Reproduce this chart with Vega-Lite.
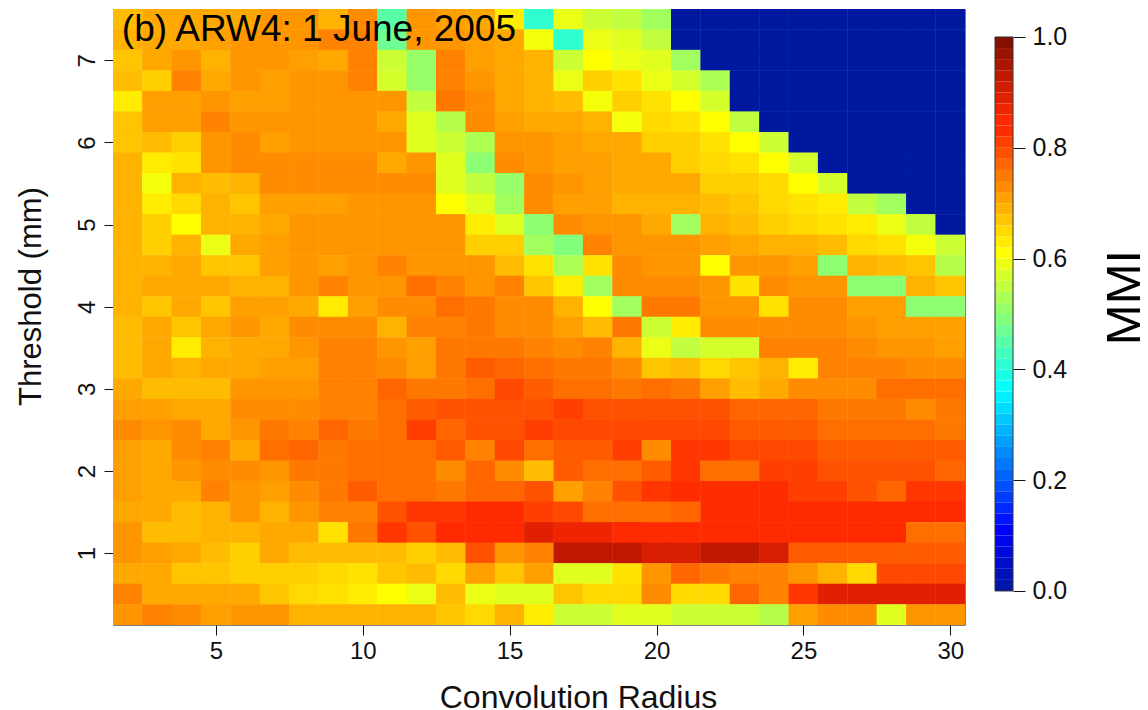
{"$schema":"https://vega.github.io/schema/vega-lite/v6.json","background":"white","padding":{"left":14,"top":8,"right":0,"bottom":0},"autosize":{"type":"pad"},"spacing":28,"config":{"font":"Liberation Sans","view":{"stroke":"#808080","strokeWidth":1}},
"datasets":{"grid":[
{"r":2,"t":7.5,"m":0.68},{"r":3,"t":7.5,"m":0.7},{"r":4,"t":7.5,"m":0.7},{"r":5,"t":7.5,"m":0.7},{"r":6,"t":7.5,"m":0.7},{"r":7,"t":7.5,"m":0.72},{"r":8,"t":7.5,"m":0.72},{"r":9,"t":7.5,"m":0.69},{"r":10,"t":7.5,"m":0.73},{"r":11,"t":7.5,"m":0.45},{"r":12,"t":7.5,"m":0.72},{"r":13,"t":7.5,"m":0.71},{"r":14,"t":7.5,"m":0.7},{"r":15,"t":7.5,"m":0.63},{"r":16,"t":7.5,"m":0.41},{"r":17,"t":7.5,"m":0.59},{"r":18,"t":7.5,"m":0.56},{"r":19,"t":7.5,"m":0.55},{"r":20,"t":7.5,"m":0.52},{"r":21,"t":7.5,"m":0},{"r":22,"t":7.5,"m":0},{"r":23,"t":7.5,"m":0},{"r":24,"t":7.5,"m":0},{"r":25,"t":7.5,"m":0},{"r":26,"t":7.5,"m":0},{"r":27,"t":7.5,"m":0},{"r":28,"t":7.5,"m":0},{"r":29,"t":7.5,"m":0},{"r":30,"t":7.5,"m":0},
{"r":2,"t":7.25,"m":0.69},{"r":3,"t":7.25,"m":0.7},{"r":4,"t":7.25,"m":0.7},{"r":5,"t":7.25,"m":0.71},{"r":6,"t":7.25,"m":0.72},{"r":7,"t":7.25,"m":0.72},{"r":8,"t":7.25,"m":0.72},{"r":9,"t":7.25,"m":0.74},{"r":10,"t":7.25,"m":0.74},{"r":11,"t":7.25,"m":0.47},{"r":12,"t":7.25,"m":0.72},{"r":13,"t":7.25,"m":0.72},{"r":14,"t":7.25,"m":0.71},{"r":15,"t":7.25,"m":0.7},{"r":16,"t":7.25,"m":0.6},{"r":17,"t":7.25,"m":0.41},{"r":18,"t":7.25,"m":0.59},{"r":19,"t":7.25,"m":0.58},{"r":20,"t":7.25,"m":0.55},{"r":21,"t":7.25,"m":0},{"r":22,"t":7.25,"m":0},{"r":23,"t":7.25,"m":0},{"r":24,"t":7.25,"m":0},{"r":25,"t":7.25,"m":0},{"r":26,"t":7.25,"m":0},{"r":27,"t":7.25,"m":0},{"r":28,"t":7.25,"m":0},{"r":29,"t":7.25,"m":0},{"r":30,"t":7.25,"m":0},
{"r":2,"t":7,"m":0.67},{"r":3,"t":7,"m":0.7},{"r":4,"t":7,"m":0.72},{"r":5,"t":7,"m":0.69},{"r":6,"t":7,"m":0.72},{"r":7,"t":7,"m":0.72},{"r":8,"t":7,"m":0.71},{"r":9,"t":7,"m":0.7},{"r":10,"t":7,"m":0.74},{"r":11,"t":7,"m":0.56},{"r":12,"t":7,"m":0.51},{"r":13,"t":7,"m":0.74},{"r":14,"t":7,"m":0.71},{"r":15,"t":7,"m":0.7},{"r":16,"t":7,"m":0.69},{"r":17,"t":7,"m":0.56},{"r":18,"t":7,"m":0.61},{"r":19,"t":7,"m":0.59},{"r":20,"t":7,"m":0.58},{"r":21,"t":7,"m":0.52},{"r":22,"t":7,"m":0},{"r":23,"t":7,"m":0},{"r":24,"t":7,"m":0},{"r":25,"t":7,"m":0},{"r":26,"t":7,"m":0},{"r":27,"t":7,"m":0},{"r":28,"t":7,"m":0},{"r":29,"t":7,"m":0},{"r":30,"t":7,"m":0},
{"r":2,"t":6.75,"m":0.68},{"r":3,"t":6.75,"m":0.66},{"r":4,"t":6.75,"m":0.74},{"r":5,"t":6.75,"m":0.7},{"r":6,"t":6.75,"m":0.72},{"r":7,"t":6.75,"m":0.71},{"r":8,"t":6.75,"m":0.72},{"r":9,"t":6.75,"m":0.72},{"r":10,"t":6.75,"m":0.74},{"r":11,"t":6.75,"m":0.57},{"r":12,"t":6.75,"m":0.51},{"r":13,"t":6.75,"m":0.74},{"r":14,"t":6.75,"m":0.72},{"r":15,"t":6.75,"m":0.7},{"r":16,"t":6.75,"m":0.69},{"r":17,"t":6.75,"m":0.59},{"r":18,"t":6.75,"m":0.66},{"r":19,"t":6.75,"m":0.64},{"r":20,"t":6.75,"m":0.59},{"r":21,"t":6.75,"m":0.57},{"r":22,"t":6.75,"m":0.53},{"r":23,"t":6.75,"m":0},{"r":24,"t":6.75,"m":0},{"r":25,"t":6.75,"m":0},{"r":26,"t":6.75,"m":0},{"r":27,"t":6.75,"m":0},{"r":28,"t":6.75,"m":0},{"r":29,"t":6.75,"m":0},{"r":30,"t":6.75,"m":0},
{"r":2,"t":6.5,"m":0.63},{"r":3,"t":6.5,"m":0.71},{"r":4,"t":6.5,"m":0.71},{"r":5,"t":6.5,"m":0.72},{"r":6,"t":6.5,"m":0.71},{"r":7,"t":6.5,"m":0.71},{"r":8,"t":6.5,"m":0.72},{"r":9,"t":6.5,"m":0.72},{"r":10,"t":6.5,"m":0.72},{"r":11,"t":6.5,"m":0.72},{"r":12,"t":6.5,"m":0.55},{"r":13,"t":6.5,"m":0.75},{"r":14,"t":6.5,"m":0.73},{"r":15,"t":6.5,"m":0.7},{"r":16,"t":6.5,"m":0.69},{"r":17,"t":6.5,"m":0.68},{"r":18,"t":6.5,"m":0.6},{"r":19,"t":6.5,"m":0.66},{"r":20,"t":6.5,"m":0.64},{"r":21,"t":6.5,"m":0.61},{"r":22,"t":6.5,"m":0.57},{"r":23,"t":6.5,"m":0},{"r":24,"t":6.5,"m":0},{"r":25,"t":6.5,"m":0},{"r":26,"t":6.5,"m":0},{"r":27,"t":6.5,"m":0},{"r":28,"t":6.5,"m":0},{"r":29,"t":6.5,"m":0},{"r":30,"t":6.5,"m":0},
{"r":2,"t":6.25,"m":0.67},{"r":3,"t":6.25,"m":0.71},{"r":4,"t":6.25,"m":0.71},{"r":5,"t":6.25,"m":0.74},{"r":6,"t":6.25,"m":0.72},{"r":7,"t":6.25,"m":0.72},{"r":8,"t":6.25,"m":0.72},{"r":9,"t":6.25,"m":0.72},{"r":10,"t":6.25,"m":0.72},{"r":11,"t":6.25,"m":0.7},{"r":12,"t":6.25,"m":0.58},{"r":13,"t":6.25,"m":0.54},{"r":14,"t":6.25,"m":0.73},{"r":15,"t":6.25,"m":0.71},{"r":16,"t":6.25,"m":0.7},{"r":17,"t":6.25,"m":0.7},{"r":18,"t":6.25,"m":0.69},{"r":19,"t":6.25,"m":0.6},{"r":20,"t":6.25,"m":0.65},{"r":21,"t":6.25,"m":0.64},{"r":22,"t":6.25,"m":0.61},{"r":23,"t":6.25,"m":0.55},{"r":24,"t":6.25,"m":0},{"r":25,"t":6.25,"m":0},{"r":26,"t":6.25,"m":0},{"r":27,"t":6.25,"m":0},{"r":28,"t":6.25,"m":0},{"r":29,"t":6.25,"m":0},{"r":30,"t":6.25,"m":0},
{"r":2,"t":6,"m":0.67},{"r":3,"t":6,"m":0.68},{"r":4,"t":6,"m":0.66},{"r":5,"t":6,"m":0.72},{"r":6,"t":6,"m":0.73},{"r":7,"t":6,"m":0.71},{"r":8,"t":6,"m":0.72},{"r":9,"t":6,"m":0.72},{"r":10,"t":6,"m":0.72},{"r":11,"t":6,"m":0.72},{"r":12,"t":6,"m":0.58},{"r":13,"t":6,"m":0.56},{"r":14,"t":6,"m":0.53},{"r":15,"t":6,"m":0.72},{"r":16,"t":6,"m":0.72},{"r":17,"t":6,"m":0.71},{"r":18,"t":6,"m":0.7},{"r":19,"t":6,"m":0.7},{"r":20,"t":6,"m":0.66},{"r":21,"t":6,"m":0.66},{"r":22,"t":6,"m":0.64},{"r":23,"t":6,"m":0.61},{"r":24,"t":6,"m":0.56},{"r":25,"t":6,"m":0},{"r":26,"t":6,"m":0},{"r":27,"t":6,"m":0},{"r":28,"t":6,"m":0},{"r":29,"t":6,"m":0},{"r":30,"t":6,"m":0},
{"r":2,"t":5.75,"m":0.69},{"r":3,"t":5.75,"m":0.63},{"r":4,"t":5.75,"m":0.64},{"r":5,"t":5.75,"m":0.72},{"r":6,"t":5.75,"m":0.73},{"r":7,"t":5.75,"m":0.73},{"r":8,"t":5.75,"m":0.73},{"r":9,"t":5.75,"m":0.73},{"r":10,"t":5.75,"m":0.73},{"r":11,"t":5.75,"m":0.7},{"r":12,"t":5.75,"m":0.72},{"r":13,"t":5.75,"m":0.58},{"r":14,"t":5.75,"m":0.5},{"r":15,"t":5.75,"m":0.73},{"r":16,"t":5.75,"m":0.72},{"r":17,"t":5.75,"m":0.71},{"r":18,"t":5.75,"m":0.71},{"r":19,"t":5.75,"m":0.7},{"r":20,"t":5.75,"m":0.7},{"r":21,"t":5.75,"m":0.66},{"r":22,"t":5.75,"m":0.65},{"r":23,"t":5.75,"m":0.64},{"r":24,"t":5.75,"m":0.61},{"r":25,"t":5.75,"m":0.57},{"r":26,"t":5.75,"m":0},{"r":27,"t":5.75,"m":0},{"r":28,"t":5.75,"m":0},{"r":29,"t":5.75,"m":0},{"r":30,"t":5.75,"m":0},
{"r":2,"t":5.5,"m":0.69},{"r":3,"t":5.5,"m":0.6},{"r":4,"t":5.5,"m":0.69},{"r":5,"t":5.5,"m":0.68},{"r":6,"t":5.5,"m":0.69},{"r":7,"t":5.5,"m":0.73},{"r":8,"t":5.5,"m":0.73},{"r":9,"t":5.5,"m":0.73},{"r":10,"t":5.5,"m":0.73},{"r":11,"t":5.5,"m":0.73},{"r":12,"t":5.5,"m":0.73},{"r":13,"t":5.5,"m":0.58},{"r":14,"t":5.5,"m":0.55},{"r":15,"t":5.5,"m":0.51},{"r":16,"t":5.5,"m":0.73},{"r":17,"t":5.5,"m":0.72},{"r":18,"t":5.5,"m":0.71},{"r":19,"t":5.5,"m":0.7},{"r":20,"t":5.5,"m":0.7},{"r":21,"t":5.5,"m":0.7},{"r":22,"t":5.5,"m":0.66},{"r":23,"t":5.5,"m":0.66},{"r":24,"t":5.5,"m":0.65},{"r":25,"t":5.5,"m":0.61},{"r":26,"t":5.5,"m":0.57},{"r":27,"t":5.5,"m":0},{"r":28,"t":5.5,"m":0},{"r":29,"t":5.5,"m":0},{"r":30,"t":5.5,"m":0},
{"r":2,"t":5.25,"m":0.69},{"r":3,"t":5.25,"m":0.63},{"r":4,"t":5.25,"m":0.65},{"r":5,"t":5.25,"m":0.69},{"r":6,"t":5.25,"m":0.67},{"r":7,"t":5.25,"m":0.71},{"r":8,"t":5.25,"m":0.71},{"r":9,"t":5.25,"m":0.71},{"r":10,"t":5.25,"m":0.72},{"r":11,"t":5.25,"m":0.72},{"r":12,"t":5.25,"m":0.72},{"r":13,"t":5.25,"m":0.61},{"r":14,"t":5.25,"m":0.58},{"r":15,"t":5.25,"m":0.52},{"r":16,"t":5.25,"m":0.73},{"r":17,"t":5.25,"m":0.71},{"r":18,"t":5.25,"m":0.71},{"r":19,"t":5.25,"m":0.69},{"r":20,"t":5.25,"m":0.69},{"r":21,"t":5.25,"m":0.69},{"r":22,"t":5.25,"m":0.68},{"r":23,"t":5.25,"m":0.67},{"r":24,"t":5.25,"m":0.65},{"r":25,"t":5.25,"m":0.64},{"r":26,"t":5.25,"m":0.63},{"r":27,"t":5.25,"m":0.55},{"r":28,"t":5.25,"m":0.52},{"r":29,"t":5.25,"m":0},{"r":30,"t":5.25,"m":0},
{"r":2,"t":5,"m":0.69},{"r":3,"t":5,"m":0.66},{"r":4,"t":5,"m":0.61},{"r":5,"t":5,"m":0.69},{"r":6,"t":5,"m":0.69},{"r":7,"t":5,"m":0.7},{"r":8,"t":5,"m":0.72},{"r":9,"t":5,"m":0.72},{"r":10,"t":5,"m":0.72},{"r":11,"t":5,"m":0.72},{"r":12,"t":5,"m":0.72},{"r":13,"t":5,"m":0.72},{"r":14,"t":5,"m":0.63},{"r":15,"t":5,"m":0.58},{"r":16,"t":5,"m":0.5},{"r":17,"t":5,"m":0.73},{"r":18,"t":5,"m":0.72},{"r":19,"t":5,"m":0.72},{"r":20,"t":5,"m":0.7},{"r":21,"t":5,"m":0.52},{"r":22,"t":5,"m":0.69},{"r":23,"t":5,"m":0.68},{"r":24,"t":5,"m":0.66},{"r":25,"t":5,"m":0.65},{"r":26,"t":5,"m":0.64},{"r":27,"t":5,"m":0.63},{"r":28,"t":5,"m":0.59},{"r":29,"t":5,"m":0.55},{"r":30,"t":5,"m":0},
{"r":2,"t":4.75,"m":0.69},{"r":3,"t":4.75,"m":0.66},{"r":4,"t":4.75,"m":0.69},{"r":5,"t":4.75,"m":0.59},{"r":6,"t":4.75,"m":0.7},{"r":7,"t":4.75,"m":0.71},{"r":8,"t":4.75,"m":0.72},{"r":9,"t":4.75,"m":0.72},{"r":10,"t":4.75,"m":0.72},{"r":11,"t":4.75,"m":0.72},{"r":12,"t":4.75,"m":0.72},{"r":13,"t":4.75,"m":0.72},{"r":14,"t":4.75,"m":0.66},{"r":15,"t":4.75,"m":0.66},{"r":16,"t":4.75,"m":0.52},{"r":17,"t":4.75,"m":0.49},{"r":18,"t":4.75,"m":0.74},{"r":19,"t":4.75,"m":0.72},{"r":20,"t":4.75,"m":0.72},{"r":21,"t":4.75,"m":0.72},{"r":22,"t":4.75,"m":0.71},{"r":23,"t":4.75,"m":0.7},{"r":24,"t":4.75,"m":0.69},{"r":25,"t":4.75,"m":0.69},{"r":26,"t":4.75,"m":0.68},{"r":27,"t":4.75,"m":0.65},{"r":28,"t":4.75,"m":0.64},{"r":29,"t":4.75,"m":0.6},{"r":30,"t":4.75,"m":0.56},
{"r":2,"t":4.5,"m":0.69},{"r":3,"t":4.5,"m":0.69},{"r":4,"t":4.5,"m":0.7},{"r":5,"t":4.5,"m":0.67},{"r":6,"t":4.5,"m":0.67},{"r":7,"t":4.5,"m":0.71},{"r":8,"t":4.5,"m":0.72},{"r":9,"t":4.5,"m":0.71},{"r":10,"t":4.5,"m":0.72},{"r":11,"t":4.5,"m":0.74},{"r":12,"t":4.5,"m":0.72},{"r":13,"t":4.5,"m":0.72},{"r":14,"t":4.5,"m":0.72},{"r":15,"t":4.5,"m":0.68},{"r":16,"t":4.5,"m":0.64},{"r":17,"t":4.5,"m":0.53},{"r":18,"t":4.5,"m":0.64},{"r":19,"t":4.5,"m":0.73},{"r":20,"t":4.5,"m":0.72},{"r":21,"t":4.5,"m":0.72},{"r":22,"t":4.5,"m":0.61},{"r":23,"t":4.5,"m":0.72},{"r":24,"t":4.5,"m":0.72},{"r":25,"t":4.5,"m":0.71},{"r":26,"t":4.5,"m":0.5},{"r":27,"t":4.5,"m":0.69},{"r":28,"t":4.5,"m":0.68},{"r":29,"t":4.5,"m":0.67},{"r":30,"t":4.5,"m":0.54},
{"r":2,"t":4.25,"m":0.69},{"r":3,"t":4.25,"m":0.7},{"r":4,"t":4.25,"m":0.7},{"r":5,"t":4.25,"m":0.7},{"r":6,"t":4.25,"m":0.69},{"r":7,"t":4.25,"m":0.69},{"r":8,"t":4.25,"m":0.72},{"r":9,"t":4.25,"m":0.74},{"r":10,"t":4.25,"m":0.72},{"r":11,"t":4.25,"m":0.72},{"r":12,"t":4.25,"m":0.76},{"r":13,"t":4.25,"m":0.74},{"r":14,"t":4.25,"m":0.72},{"r":15,"t":4.25,"m":0.74},{"r":16,"t":4.25,"m":0.67},{"r":17,"t":4.25,"m":0.63},{"r":18,"t":4.25,"m":0.52},{"r":19,"t":4.25,"m":0.73},{"r":20,"t":4.25,"m":0.73},{"r":21,"t":4.25,"m":0.73},{"r":22,"t":4.25,"m":0.72},{"r":23,"t":4.25,"m":0.64},{"r":24,"t":4.25,"m":0.73},{"r":25,"t":4.25,"m":0.72},{"r":26,"t":4.25,"m":0.72},{"r":27,"t":4.25,"m":0.5},{"r":28,"t":4.25,"m":0.5},{"r":29,"t":4.25,"m":0.69},{"r":30,"t":4.25,"m":0.67},
{"r":2,"t":4,"m":0.69},{"r":3,"t":4,"m":0.67},{"r":4,"t":4,"m":0.7},{"r":5,"t":4,"m":0.67},{"r":6,"t":4,"m":0.71},{"r":7,"t":4,"m":0.71},{"r":8,"t":4,"m":0.7},{"r":9,"t":4,"m":0.63},{"r":10,"t":4,"m":0.71},{"r":11,"t":4,"m":0.73},{"r":12,"t":4,"m":0.73},{"r":13,"t":4,"m":0.76},{"r":14,"t":4,"m":0.75},{"r":15,"t":4,"m":0.73},{"r":16,"t":4,"m":0.73},{"r":17,"t":4,"m":0.69},{"r":18,"t":4,"m":0.61},{"r":19,"t":4,"m":0.52},{"r":20,"t":4,"m":0.75},{"r":21,"t":4,"m":0.75},{"r":22,"t":4,"m":0.72},{"r":23,"t":4,"m":0.72},{"r":24,"t":4,"m":0.64},{"r":25,"t":4,"m":0.73},{"r":26,"t":4,"m":0.73},{"r":27,"t":4,"m":0.71},{"r":28,"t":4,"m":0.71},{"r":29,"t":4,"m":0.5},{"r":30,"t":4,"m":0.5},
{"r":2,"t":3.75,"m":0.68},{"r":3,"t":3.75,"m":0.7},{"r":4,"t":3.75,"m":0.67},{"r":5,"t":3.75,"m":0.7},{"r":6,"t":3.75,"m":0.72},{"r":7,"t":3.75,"m":0.7},{"r":8,"t":3.75,"m":0.73},{"r":9,"t":3.75,"m":0.73},{"r":10,"t":3.75,"m":0.73},{"r":11,"t":3.75,"m":0.69},{"r":12,"t":3.75,"m":0.74},{"r":13,"t":3.75,"m":0.74},{"r":14,"t":3.75,"m":0.75},{"r":15,"t":3.75,"m":0.73},{"r":16,"t":3.75,"m":0.73},{"r":17,"t":3.75,"m":0.71},{"r":18,"t":3.75,"m":0.68},{"r":19,"t":3.75,"m":0.75},{"r":20,"t":3.75,"m":0.56},{"r":21,"t":3.75,"m":0.63},{"r":22,"t":3.75,"m":0.73},{"r":23,"t":3.75,"m":0.73},{"r":24,"t":3.75,"m":0.73},{"r":25,"t":3.75,"m":0.73},{"r":26,"t":3.75,"m":0.73},{"r":27,"t":3.75,"m":0.72},{"r":28,"t":3.75,"m":0.71},{"r":29,"t":3.75,"m":0.71},{"r":30,"t":3.75,"m":0.71},
{"r":2,"t":3.5,"m":0.68},{"r":3,"t":3.5,"m":0.7},{"r":4,"t":3.5,"m":0.63},{"r":5,"t":3.5,"m":0.69},{"r":6,"t":3.5,"m":0.7},{"r":7,"t":3.5,"m":0.7},{"r":8,"t":3.5,"m":0.72},{"r":9,"t":3.5,"m":0.74},{"r":10,"t":3.5,"m":0.74},{"r":11,"t":3.5,"m":0.72},{"r":12,"t":3.5,"m":0.71},{"r":13,"t":3.5,"m":0.75},{"r":14,"t":3.5,"m":0.75},{"r":15,"t":3.5,"m":0.75},{"r":16,"t":3.5,"m":0.74},{"r":17,"t":3.5,"m":0.73},{"r":18,"t":3.5,"m":0.74},{"r":19,"t":3.5,"m":0.69},{"r":20,"t":3.5,"m":0.59},{"r":21,"t":3.5,"m":0.55},{"r":22,"t":3.5,"m":0.57},{"r":23,"t":3.5,"m":0.57},{"r":24,"t":3.5,"m":0.74},{"r":25,"t":3.5,"m":0.74},{"r":26,"t":3.5,"m":0.74},{"r":27,"t":3.5,"m":0.73},{"r":28,"t":3.5,"m":0.72},{"r":29,"t":3.5,"m":0.72},{"r":30,"t":3.5,"m":0.71},
{"r":2,"t":3.25,"m":0.68},{"r":3,"t":3.25,"m":0.7},{"r":4,"t":3.25,"m":0.69},{"r":5,"t":3.25,"m":0.7},{"r":6,"t":3.25,"m":0.7},{"r":7,"t":3.25,"m":0.71},{"r":8,"t":3.25,"m":0.71},{"r":9,"t":3.25,"m":0.74},{"r":10,"t":3.25,"m":0.74},{"r":11,"t":3.25,"m":0.73},{"r":12,"t":3.25,"m":0.71},{"r":13,"t":3.25,"m":0.75},{"r":14,"t":3.25,"m":0.78},{"r":15,"t":3.25,"m":0.77},{"r":16,"t":3.25,"m":0.76},{"r":17,"t":3.25,"m":0.75},{"r":18,"t":3.25,"m":0.75},{"r":19,"t":3.25,"m":0.73},{"r":20,"t":3.25,"m":0.67},{"r":21,"t":3.25,"m":0.68},{"r":22,"t":3.25,"m":0.65},{"r":23,"t":3.25,"m":0.67},{"r":24,"t":3.25,"m":0.69},{"r":25,"t":3.25,"m":0.63},{"r":26,"t":3.25,"m":0.74},{"r":27,"t":3.25,"m":0.74},{"r":28,"t":3.25,"m":0.74},{"r":29,"t":3.25,"m":0.73},{"r":30,"t":3.25,"m":0.73},
{"r":2,"t":3,"m":0.7},{"r":3,"t":3,"m":0.68},{"r":4,"t":3,"m":0.68},{"r":5,"t":3,"m":0.68},{"r":6,"t":3,"m":0.72},{"r":7,"t":3,"m":0.72},{"r":8,"t":3,"m":0.72},{"r":9,"t":3,"m":0.74},{"r":10,"t":3,"m":0.74},{"r":11,"t":3,"m":0.77},{"r":12,"t":3,"m":0.75},{"r":13,"t":3,"m":0.75},{"r":14,"t":3,"m":0.76},{"r":15,"t":3,"m":0.8},{"r":16,"t":3,"m":0.78},{"r":17,"t":3,"m":0.76},{"r":18,"t":3,"m":0.76},{"r":19,"t":3,"m":0.75},{"r":20,"t":3,"m":0.76},{"r":21,"t":3,"m":0.75},{"r":22,"t":3,"m":0.71},{"r":23,"t":3,"m":0.68},{"r":24,"t":3,"m":0.7},{"r":25,"t":3,"m":0.73},{"r":26,"t":3,"m":0.73},{"r":27,"t":3,"m":0.73},{"r":28,"t":3,"m":0.76},{"r":29,"t":3,"m":0.76},{"r":30,"t":3,"m":0.76},
{"r":2,"t":2.75,"m":0.71},{"r":3,"t":2.75,"m":0.71},{"r":4,"t":2.75,"m":0.7},{"r":5,"t":2.75,"m":0.7},{"r":6,"t":2.75,"m":0.73},{"r":7,"t":2.75,"m":0.73},{"r":8,"t":2.75,"m":0.73},{"r":9,"t":2.75,"m":0.74},{"r":10,"t":2.75,"m":0.74},{"r":11,"t":2.75,"m":0.76},{"r":12,"t":2.75,"m":0.78},{"r":13,"t":2.75,"m":0.79},{"r":14,"t":2.75,"m":0.79},{"r":15,"t":2.75,"m":0.79},{"r":16,"t":2.75,"m":0.79},{"r":17,"t":2.75,"m":0.81},{"r":18,"t":2.75,"m":0.79},{"r":19,"t":2.75,"m":0.79},{"r":20,"t":2.75,"m":0.79},{"r":21,"t":2.75,"m":0.79},{"r":22,"t":2.75,"m":0.79},{"r":23,"t":2.75,"m":0.77},{"r":24,"t":2.75,"m":0.77},{"r":25,"t":2.75,"m":0.77},{"r":26,"t":2.75,"m":0.75},{"r":27,"t":2.75,"m":0.75},{"r":28,"t":2.75,"m":0.75},{"r":29,"t":2.75,"m":0.73},{"r":30,"t":2.75,"m":0.75},
{"r":2,"t":2.5,"m":0.73},{"r":3,"t":2.5,"m":0.72},{"r":4,"t":2.5,"m":0.73},{"r":5,"t":2.5,"m":0.7},{"r":6,"t":2.5,"m":0.72},{"r":7,"t":2.5,"m":0.75},{"r":8,"t":2.5,"m":0.74},{"r":9,"t":2.5,"m":0.77},{"r":10,"t":2.5,"m":0.75},{"r":11,"t":2.5,"m":0.76},{"r":12,"t":2.5,"m":0.81},{"r":13,"t":2.5,"m":0.77},{"r":14,"t":2.5,"m":0.79},{"r":15,"t":2.5,"m":0.79},{"r":16,"t":2.5,"m":0.81},{"r":17,"t":2.5,"m":0.8},{"r":18,"t":2.5,"m":0.8},{"r":19,"t":2.5,"m":0.8},{"r":20,"t":2.5,"m":0.8},{"r":21,"t":2.5,"m":0.8},{"r":22,"t":2.5,"m":0.8},{"r":23,"t":2.5,"m":0.78},{"r":24,"t":2.5,"m":0.78},{"r":25,"t":2.5,"m":0.78},{"r":26,"t":2.5,"m":0.76},{"r":27,"t":2.5,"m":0.76},{"r":28,"t":2.5,"m":0.76},{"r":29,"t":2.5,"m":0.76},{"r":30,"t":2.5,"m":0.75},
{"r":2,"t":2.25,"m":0.71},{"r":3,"t":2.25,"m":0.7},{"r":4,"t":2.25,"m":0.73},{"r":5,"t":2.25,"m":0.74},{"r":6,"t":2.25,"m":0.7},{"r":7,"t":2.25,"m":0.76},{"r":8,"t":2.25,"m":0.77},{"r":9,"t":2.25,"m":0.75},{"r":10,"t":2.25,"m":0.76},{"r":11,"t":2.25,"m":0.76},{"r":12,"t":2.25,"m":0.76},{"r":13,"t":2.25,"m":0.78},{"r":14,"t":2.25,"m":0.74},{"r":15,"t":2.25,"m":0.8},{"r":16,"t":2.25,"m":0.76},{"r":17,"t":2.25,"m":0.78},{"r":18,"t":2.25,"m":0.78},{"r":19,"t":2.25,"m":0.81},{"r":20,"t":2.25,"m":0.73},{"r":21,"t":2.25,"m":0.82},{"r":22,"t":2.25,"m":0.82},{"r":23,"t":2.25,"m":0.8},{"r":24,"t":2.25,"m":0.8},{"r":25,"t":2.25,"m":0.8},{"r":26,"t":2.25,"m":0.78},{"r":27,"t":2.25,"m":0.78},{"r":28,"t":2.25,"m":0.78},{"r":29,"t":2.25,"m":0.78},{"r":30,"t":2.25,"m":0.78},
{"r":2,"t":2,"m":0.71},{"r":3,"t":2,"m":0.7},{"r":4,"t":2,"m":0.72},{"r":5,"t":2,"m":0.73},{"r":6,"t":2,"m":0.73},{"r":7,"t":2,"m":0.72},{"r":8,"t":2,"m":0.75},{"r":9,"t":2,"m":0.75},{"r":10,"t":2,"m":0.76},{"r":11,"t":2,"m":0.76},{"r":12,"t":2,"m":0.76},{"r":13,"t":2,"m":0.73},{"r":14,"t":2,"m":0.77},{"r":15,"t":2,"m":0.73},{"r":16,"t":2,"m":0.68},{"r":17,"t":2,"m":0.78},{"r":18,"t":2,"m":0.76},{"r":19,"t":2,"m":0.76},{"r":20,"t":2,"m":0.78},{"r":21,"t":2,"m":0.82},{"r":22,"t":2,"m":0.76},{"r":23,"t":2,"m":0.76},{"r":24,"t":2,"m":0.81},{"r":25,"t":2,"m":0.81},{"r":26,"t":2,"m":0.79},{"r":27,"t":2,"m":0.79},{"r":28,"t":2,"m":0.79},{"r":29,"t":2,"m":0.79},{"r":30,"t":2,"m":0.77},
{"r":2,"t":1.75,"m":0.71},{"r":3,"t":1.75,"m":0.7},{"r":4,"t":1.75,"m":0.7},{"r":5,"t":1.75,"m":0.74},{"r":6,"t":1.75,"m":0.72},{"r":7,"t":1.75,"m":0.71},{"r":8,"t":1.75,"m":0.73},{"r":9,"t":1.75,"m":0.75},{"r":10,"t":1.75,"m":0.78},{"r":11,"t":1.75,"m":0.76},{"r":12,"t":1.75,"m":0.76},{"r":13,"t":1.75,"m":0.75},{"r":14,"t":1.75,"m":0.77},{"r":15,"t":1.75,"m":0.77},{"r":16,"t":1.75,"m":0.79},{"r":17,"t":1.75,"m":0.71},{"r":18,"t":1.75,"m":0.74},{"r":19,"t":1.75,"m":0.79},{"r":20,"t":1.75,"m":0.82},{"r":21,"t":1.75,"m":0.83},{"r":22,"t":1.75,"m":0.83},{"r":23,"t":1.75,"m":0.83},{"r":24,"t":1.75,"m":0.83},{"r":25,"t":1.75,"m":0.81},{"r":26,"t":1.75,"m":0.81},{"r":27,"t":1.75,"m":0.79},{"r":28,"t":1.75,"m":0.77},{"r":29,"t":1.75,"m":0.82},{"r":30,"t":1.75,"m":0.82},
{"r":2,"t":1.5,"m":0.7},{"r":3,"t":1.5,"m":0.7},{"r":4,"t":1.5,"m":0.68},{"r":5,"t":1.5,"m":0.69},{"r":6,"t":1.5,"m":0.72},{"r":7,"t":1.5,"m":0.69},{"r":8,"t":1.5,"m":0.72},{"r":9,"t":1.5,"m":0.74},{"r":10,"t":1.5,"m":0.74},{"r":11,"t":1.5,"m":0.79},{"r":12,"t":1.5,"m":0.82},{"r":13,"t":1.5,"m":0.82},{"r":14,"t":1.5,"m":0.84},{"r":15,"t":1.5,"m":0.84},{"r":16,"t":1.5,"m":0.81},{"r":17,"t":1.5,"m":0.8},{"r":18,"t":1.5,"m":0.76},{"r":19,"t":1.5,"m":0.76},{"r":20,"t":1.5,"m":0.76},{"r":21,"t":1.5,"m":0.77},{"r":22,"t":1.5,"m":0.83},{"r":23,"t":1.5,"m":0.83},{"r":24,"t":1.5,"m":0.84},{"r":25,"t":1.5,"m":0.84},{"r":26,"t":1.5,"m":0.84},{"r":27,"t":1.5,"m":0.84},{"r":28,"t":1.5,"m":0.84},{"r":29,"t":1.5,"m":0.84},{"r":30,"t":1.5,"m":0.84},
{"r":2,"t":1.25,"m":0.72},{"r":3,"t":1.25,"m":0.68},{"r":4,"t":1.25,"m":0.68},{"r":5,"t":1.25,"m":0.69},{"r":6,"t":1.25,"m":0.69},{"r":7,"t":1.25,"m":0.7},{"r":8,"t":1.25,"m":0.7},{"r":9,"t":1.25,"m":0.64},{"r":10,"t":1.25,"m":0.75},{"r":11,"t":1.25,"m":0.82},{"r":12,"t":1.25,"m":0.79},{"r":13,"t":1.25,"m":0.84},{"r":14,"t":1.25,"m":0.84},{"r":15,"t":1.25,"m":0.84},{"r":16,"t":1.25,"m":0.89},{"r":17,"t":1.25,"m":0.87},{"r":18,"t":1.25,"m":0.87},{"r":19,"t":1.25,"m":0.84},{"r":20,"t":1.25,"m":0.84},{"r":21,"t":1.25,"m":0.84},{"r":22,"t":1.25,"m":0.84},{"r":23,"t":1.25,"m":0.84},{"r":24,"t":1.25,"m":0.84},{"r":25,"t":1.25,"m":0.84},{"r":26,"t":1.25,"m":0.84},{"r":27,"t":1.25,"m":0.84},{"r":28,"t":1.25,"m":0.84},{"r":29,"t":1.25,"m":0.76},{"r":30,"t":1.25,"m":0.76},
{"r":2,"t":1,"m":0.72},{"r":3,"t":1,"m":0.71},{"r":4,"t":1,"m":0.7},{"r":5,"t":1,"m":0.68},{"r":6,"t":1,"m":0.66},{"r":7,"t":1,"m":0.7},{"r":8,"t":1,"m":0.68},{"r":9,"t":1,"m":0.68},{"r":10,"t":1,"m":0.68},{"r":11,"t":1,"m":0.68},{"r":12,"t":1,"m":0.66},{"r":13,"t":1,"m":0.68},{"r":14,"t":1,"m":0.79},{"r":15,"t":1,"m":0.72},{"r":16,"t":1,"m":0.74},{"r":17,"t":1,"m":0.93},{"r":18,"t":1,"m":0.93},{"r":19,"t":1,"m":0.93},{"r":20,"t":1,"m":0.9},{"r":21,"t":1,"m":0.9},{"r":22,"t":1,"m":0.93},{"r":23,"t":1,"m":0.93},{"r":24,"t":1,"m":0.9},{"r":25,"t":1,"m":0.78},{"r":26,"t":1,"m":0.78},{"r":27,"t":1,"m":0.78},{"r":28,"t":1,"m":0.78},{"r":29,"t":1,"m":0.78},{"r":30,"t":1,"m":0.78},
{"r":2,"t":0.75,"m":0.7},{"r":3,"t":0.75,"m":0.7},{"r":4,"t":0.75,"m":0.67},{"r":5,"t":0.75,"m":0.67},{"r":6,"t":0.75,"m":0.66},{"r":7,"t":0.75,"m":0.66},{"r":8,"t":0.75,"m":0.66},{"r":9,"t":0.75,"m":0.65},{"r":10,"t":0.75,"m":0.64},{"r":11,"t":0.75,"m":0.67},{"r":12,"t":0.75,"m":0.68},{"r":13,"t":0.75,"m":0.65},{"r":14,"t":0.75,"m":0.71},{"r":15,"t":0.75,"m":0.67},{"r":16,"t":0.75,"m":0.71},{"r":17,"t":0.75,"m":0.58},{"r":18,"t":0.75,"m":0.58},{"r":19,"t":0.75,"m":0.64},{"r":20,"t":0.75,"m":0.72},{"r":21,"t":0.75,"m":0.77},{"r":22,"t":0.75,"m":0.75},{"r":23,"t":0.75,"m":0.74},{"r":24,"t":0.75,"m":0.74},{"r":25,"t":0.75,"m":0.72},{"r":26,"t":0.75,"m":0.69},{"r":27,"t":0.75,"m":0.65},{"r":28,"t":0.75,"m":0.8},{"r":29,"t":0.75,"m":0.8},{"r":30,"t":0.75,"m":0.8},
{"r":2,"t":0.5,"m":0.74},{"r":3,"t":0.5,"m":0.7},{"r":4,"t":0.5,"m":0.7},{"r":5,"t":0.5,"m":0.7},{"r":6,"t":0.5,"m":0.7},{"r":7,"t":0.5,"m":0.67},{"r":8,"t":0.5,"m":0.65},{"r":9,"t":0.5,"m":0.64},{"r":10,"t":0.5,"m":0.63},{"r":11,"t":0.5,"m":0.61},{"r":12,"t":0.5,"m":0.59},{"r":13,"t":0.5,"m":0.68},{"r":14,"t":0.5,"m":0.59},{"r":15,"t":0.5,"m":0.58},{"r":16,"t":0.5,"m":0.58},{"r":17,"t":0.5,"m":0.67},{"r":18,"t":0.5,"m":0.65},{"r":19,"t":0.5,"m":0.65},{"r":20,"t":0.5,"m":0.73},{"r":21,"t":0.5,"m":0.65},{"r":22,"t":0.5,"m":0.65},{"r":23,"t":0.5,"m":0.77},{"r":24,"t":0.5,"m":0.74},{"r":25,"t":0.5,"m":0.82},{"r":26,"t":0.5,"m":0.89},{"r":27,"t":0.5,"m":0.89},{"r":28,"t":0.5,"m":0.89},{"r":29,"t":0.5,"m":0.89},{"r":30,"t":0.5,"m":0.89},
{"r":2,"t":0.25,"m":0.72},{"r":3,"t":0.25,"m":0.74},{"r":4,"t":0.25,"m":0.73},{"r":5,"t":0.25,"m":0.71},{"r":6,"t":0.25,"m":0.72},{"r":7,"t":0.25,"m":0.72},{"r":8,"t":0.25,"m":0.69},{"r":9,"t":0.25,"m":0.69},{"r":10,"t":0.25,"m":0.69},{"r":11,"t":0.25,"m":0.69},{"r":12,"t":0.25,"m":0.69},{"r":13,"t":0.25,"m":0.67},{"r":14,"t":0.25,"m":0.65},{"r":15,"t":0.25,"m":0.69},{"r":16,"t":0.25,"m":0.63},{"r":17,"t":0.25,"m":0.56},{"r":18,"t":0.25,"m":0.56},{"r":19,"t":0.25,"m":0.58},{"r":20,"t":0.25,"m":0.58},{"r":21,"t":0.25,"m":0.56},{"r":22,"t":0.25,"m":0.56},{"r":23,"t":0.25,"m":0.56},{"r":24,"t":0.25,"m":0.54},{"r":25,"t":0.25,"m":0.71},{"r":26,"t":0.25,"m":0.73},{"r":27,"t":0.25,"m":0.73},{"r":28,"t":0.25,"m":0.58},{"r":29,"t":0.25,"m":0.72},{"r":30,"t":0.25,"m":0.72}
],"bar":[
{"lo":0,"hi":0.02,"v":0.01},{"lo":0.02,"hi":0.04,"v":0.03},{"lo":0.04,"hi":0.06,"v":0.05},{"lo":0.06,"hi":0.08,"v":0.07},{"lo":0.08,"hi":0.1,"v":0.09},{"lo":0.1,"hi":0.12,"v":0.11},{"lo":0.12,"hi":0.14,"v":0.13},{"lo":0.14,"hi":0.16,"v":0.15},{"lo":0.16,"hi":0.18,"v":0.17},{"lo":0.18,"hi":0.2,"v":0.19},{"lo":0.2,"hi":0.22,"v":0.21},{"lo":0.22,"hi":0.24,"v":0.23},{"lo":0.24,"hi":0.26,"v":0.25},{"lo":0.26,"hi":0.28,"v":0.27},{"lo":0.28,"hi":0.3,"v":0.29},{"lo":0.3,"hi":0.32,"v":0.31},{"lo":0.32,"hi":0.34,"v":0.33},{"lo":0.34,"hi":0.36,"v":0.35},{"lo":0.36,"hi":0.38,"v":0.37},{"lo":0.38,"hi":0.4,"v":0.39},{"lo":0.4,"hi":0.42,"v":0.41},{"lo":0.42,"hi":0.44,"v":0.43},{"lo":0.44,"hi":0.46,"v":0.45},{"lo":0.46,"hi":0.48,"v":0.47},{"lo":0.48,"hi":0.5,"v":0.49},{"lo":0.5,"hi":0.52,"v":0.51},{"lo":0.52,"hi":0.54,"v":0.53},{"lo":0.54,"hi":0.56,"v":0.55},{"lo":0.56,"hi":0.58,"v":0.57},{"lo":0.58,"hi":0.6,"v":0.59},{"lo":0.6,"hi":0.62,"v":0.61},{"lo":0.62,"hi":0.64,"v":0.63},{"lo":0.64,"hi":0.66,"v":0.65},{"lo":0.66,"hi":0.68,"v":0.67},{"lo":0.68,"hi":0.7,"v":0.69},{"lo":0.7,"hi":0.72,"v":0.71},{"lo":0.72,"hi":0.74,"v":0.73},{"lo":0.74,"hi":0.76,"v":0.75},{"lo":0.76,"hi":0.78,"v":0.77},{"lo":0.78,"hi":0.8,"v":0.79},{"lo":0.8,"hi":0.82,"v":0.81},{"lo":0.82,"hi":0.84,"v":0.83},{"lo":0.84,"hi":0.86,"v":0.85},{"lo":0.86,"hi":0.88,"v":0.87},{"lo":0.88,"hi":0.9,"v":0.89},{"lo":0.9,"hi":0.92,"v":0.91},{"lo":0.92,"hi":0.94,"v":0.93},{"lo":0.94,"hi":0.96,"v":0.95},{"lo":0.96,"hi":0.98,"v":0.97},{"lo":0.98,"hi":1,"v":0.99}
]},
"hconcat":[
{"width":852,"height":616,"layer":[
{"data":{"name":"grid"},"mark":{"type":"rect","width":29.8,"height":21,"clip":true},"encoding":{
"x":{"field":"r","type":"quantitative","scale":{"domain":[1.5,30.5],"nice":false,"zero":false},"axis":{"values":[5,10,15,20,25,30],"format":"d","title":"Convolution Radius","grid":false,"domain":false,"tickColor":"#111","tickSize":10,"labelFontSize":24,"labelColor":"#111","labelPadding":4,"titleFontSize":32,"titleFontWeight":"normal","titleColor":"#111","titlePadding":19,"titleX":465}},
"y":{"field":"t","type":"quantitative","scale":{"domain":[0.125,7.625],"nice":false,"zero":false},"axis":{"values":[1,2,3,4,5,6,7],"format":"d","title":"Threshold (mm)","grid":false,"domain":false,"tickColor":"#111","tickSize":9,"labelFontSize":24,"labelColor":"#111","labelAngle":-90,"labelAlign":"center","labelBaseline":"bottom","labelPadding":5,"titleFontSize":31,"titleFontWeight":"normal","titleColor":"#111","titlePadding":28,"titleY":287}},
"color":{"field":"m","type":"quantitative","legend":null,"scale":{"domain":[0,0.11,0.365,0.61,0.83,0.85,0.93,1],"range":["#00189f","#0000ff","#00ffff","#ffff00","#ff2c00","#ff2800","#c01800","#7a1000"],"interpolate":"rgb"}}}},
{"data":{"values":[{"r":1.8,"t":7.37,"label":"(b) ARW4: 1 June, 2005"}]},"mark":{"type":"text","align":"left","baseline":"middle","fontSize":37,"color":"#000"},"encoding":{"x":{"field":"r","type":"quantitative"},"y":{"field":"t","type":"quantitative"},"text":{"field":"label"}}}
]},
{"width":18,"height":616,"view":{"stroke":null},"layer":[
{"data":{"name":"bar"},"mark":{"type":"rect"},"encoding":{
"y":{"field":"lo","type":"quantitative","scale":{"domain":[-0.0614,1.0505],"nice":false,"zero":false},"axis":{"orient":"right","values":[0,0.2,0.4,0.6,0.8,1],"format":".1f","title":"MMI","grid":false,"domain":false,"tickColor":"#111","tickSize":12,"labelFontSize":25,"labelColor":"#111","labelPadding":7,"titleFontSize":49,"titleFontWeight":"normal","titleColor":"#000","titleAngle":270,"titleBaseline":"top","titlePadding":34,"titleY":288}},
"y2":{"field":"hi"},
"color":{"field":"v","type":"quantitative","legend":null,"scale":{"domain":[0,0.11,0.365,0.61,0.83,0.85,0.93,1],"range":["#00189f","#0000ff","#00ffff","#ffff00","#ff2c00","#ff2800","#c01800","#7a1000"],"interpolate":"rgb"}}}},
{"data":{"values":[{"lo":0,"hi":1}]},"mark":{"type":"rect","fill":null,"stroke":"#333","strokeWidth":1},"encoding":{"y":{"field":"lo","type":"quantitative"},"y2":{"field":"hi"}}}
]}
]}
